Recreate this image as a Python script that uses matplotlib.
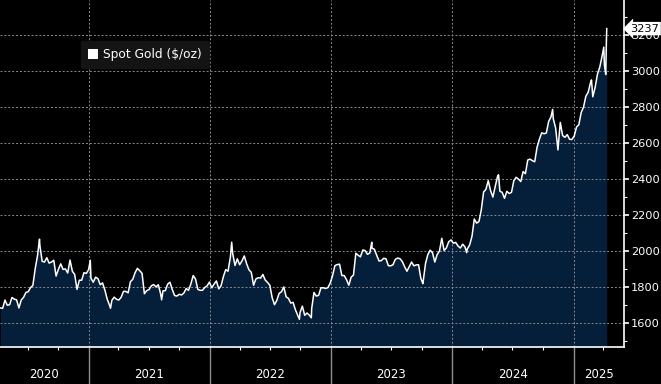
import matplotlib
matplotlib.use('Agg')
import matplotlib.pyplot as plt
import matplotlib.dates as mdates
import matplotlib.transforms as mtransforms
from matplotlib.patches import Patch
import pandas as pd

# weekly Friday closes, spot gold ($/oz), 10 Apr 2020 .. 11 Apr 2025
gold_2020 = [1685, 1683, 1729, 1700, 1703, 1743, 1734, 1730, 1685, 1729, 1744, 1771,
             1775, 1798, 1810, 1902, 1975, 2035, 1944, 1940, 1964, 1934, 1940, 1950,
             1862, 1900, 1930, 1899, 1902, 1879, 1951, 1889, 1871, 1788, 1839, 1839,
             1881, 1877, 1898]
gold_2021 = [1850, 1828, 1856, 1848, 1814, 1824, 1784, 1734, 1700, 1727, 1745, 1733,
             1729, 1744, 1777, 1777, 1769, 1831, 1844, 1881, 1905, 1892, 1877, 1764,
             1781, 1787, 1808, 1815, 1802, 1814, 1763, 1780, 1781, 1817, 1828, 1788,
             1754, 1751, 1761, 1757, 1768, 1793, 1783, 1818, 1865, 1846, 1788, 1783,
             1783, 1799, 1808, 1829]
gold_2022 = [1797, 1818, 1835, 1791, 1808, 1859, 1898, 1889, 1966, 1988, 1921, 1958,
             1925, 1946, 1974, 1931, 1897, 1883, 1811, 1846, 1853, 1851, 1871, 1840,
             1827, 1811, 1742, 1703, 1727, 1766, 1775, 1802, 1747, 1738, 1712, 1716,
             1675, 1644, 1660, 1695, 1644, 1657, 1645, 1681, 1771, 1751, 1755, 1797,
             1797, 1793, 1798, 1824]
gold_2023 = [1865, 1920, 1926, 1928, 1865, 1865, 1842, 1811, 1856, 1868, 1989, 1978,
             1969, 2007, 2004, 1983, 1990, 2017, 2011, 1977, 1946, 1948, 1961, 1958,
             1920, 1919, 1925, 1955, 1962, 1959, 1943, 1914, 1889, 1915, 1940, 1919,
             1924, 1925, 1849, 1833, 1932, 1981, 2006, 1992, 1940, 1981, 2001, 2072,
             2004, 2019, 2053, 2063]
gold_2024 = [2045, 2049, 2029, 2018, 2039, 2024, 2013, 2035, 2083, 2179, 2156, 2165,
             2230, 2329, 2344, 2392, 2337, 2301, 2360, 2415, 2334, 2327, 2294, 2333,
             2321, 2327, 2392, 2411, 2401, 2387, 2443, 2431, 2507, 2512, 2503, 2497,
             2577, 2622, 2658, 2653, 2657, 2721, 2747, 2736, 2685, 2563, 2716, 2643,
             2633, 2648, 2622, 2621]
gold_2025 = [2640, 2690, 2703, 2771, 2800, 2861, 2883, 2936, 2858, 2910, 2984, 3023,
             3084, 3037, 3237]

# a few daily highs / lows between the weekly closes
extra_dates = ['2020-08-06', '2021-01-06', '2021-03-08', '2021-08-09', '2022-03-08',
               '2022-09-28', '2022-11-03', '2023-05-04', '2023-10-05', '2024-02-14',
               '2024-05-20', '2024-10-30', '2025-02-24', '2025-04-02', '2025-04-08',
               '2025-04-10']
extra_values = [2067, 1950, 1683, 1730, 2050, 1622, 1630, 2050, 1820, 1992,
                2425, 2788, 2952, 3134, 2982, 3175]

years = ['2020', '2021', '2022', '2023', '2024', '2025']
last_value = 3237
legend_label = 'Spot Gold ($/oz)'

weekly_vals = gold_2020 + gold_2021 + gold_2022 + gold_2023 + gold_2024 + gold_2025
weekly = pd.Series(weekly_vals,
                   index=pd.date_range('2020-04-10', periods=len(weekly_vals), freq='W-FRI'))
extra = pd.Series(extra_values, index=pd.to_datetime(extra_dates))
gold = pd.concat([weekly, extra]).sort_index()

fig = plt.figure(figsize=(6.61, 3.84), dpi=100, facecolor='black')
ax = fig.add_axes([0, 37 / 384, 624 / 661, 347 / 384])
ax.set_facecolor('black')

ymin, ymax = 1468, 3396
ax.fill_between(gold.index, gold.values, ymin - 100, color='#051e3a', lw=0, zorder=1)
ax.plot(gold.index, gold.values, color='white', lw=1.1, zorder=3)

ax.set_ylim(ymin, ymax)
ax.set_xlim(pd.Timestamp('2020-04-09'), pd.Timestamp('2025-06-02'))

# y axis on the right
ax.yaxis.tick_right()
ax.set_yticks(range(1600, 3201, 200))
ax.set_yticks(range(1500, 3301, 100), minor=True)
ax.tick_params(axis='y', which='major', colors='white', labelcolor='white',
               length=3.5, width=1.2, labelsize=8.2, pad=1.5)
ax.tick_params(axis='y', which='minor', colors='white', length=2.5, width=0.8)

# x axis: year separators + quarterly minor ticks
ax.xaxis.set_major_locator(mdates.YearLocator())
ax.xaxis.set_minor_locator(mdates.MonthLocator(bymonth=[4, 7, 10]))
ax.xaxis.set_major_formatter(plt.NullFormatter())
ax.tick_params(axis='x', which='major', colors='#8c8c8c', length=27, width=1)
ax.tick_params(axis='x', which='minor', colors='white', length=2.5, width=0.8)

ax.grid(True, which='major', color='#8a8a8a', ls=(0, (2, 2)), lw=0.7)

for s in ['left', 'top']:
    ax.spines[s].set_visible(False)
for s in ['bottom', 'right']:
    ax.spines[s].set_color('white')
    ax.spines[s].set_linewidth(1.2)

# year labels centred in each year span
x0, x1 = ax.get_xlim()
trans = mtransforms.blended_transform_factory(ax.transData, ax.transAxes)
for y in years:
    a = max(mdates.date2num(pd.Timestamp(y + '-01-01')), x0)
    b = min(mdates.date2num(pd.Timestamp(str(int(y) + 1) + '-01-01')), x1)
    ax.text((a + b) / 2, -0.08, y, transform=trans, ha='center', va='center',
            color='white', fontsize=8.5)

# last value tag
ytrans = mtransforms.blended_transform_factory(ax.transAxes, ax.transData)
ax.text(1.01, last_value, str(last_value), transform=ytrans, ha='left', va='center',
        color='black', fontsize=8.2, clip_on=False, zorder=10,
        bbox=dict(boxstyle='larrow,pad=0.15', fc='white', ec='none'))

leg = ax.legend(handles=[Patch(facecolor='white', edgecolor='none', label=legend_label)],
                loc='upper left', bbox_to_anchor=(0.12, 0.9), fontsize=8.8,
                frameon=True, facecolor='#141414', edgecolor='#141414', framealpha=1,
                handlelength=0.8, handleheight=0.8, handletextpad=0.4,
                borderpad=0.6, fancybox=True)
for t in leg.get_texts():
    t.set_color('white')

fig.savefig('out.png', dpi=100, facecolor='black')
